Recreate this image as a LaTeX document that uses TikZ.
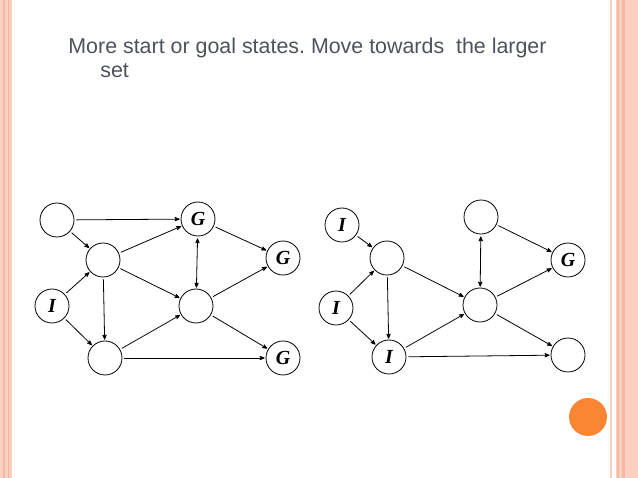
\documentclass[tikz,border=0pt]{standalone}
\usepackage{fontspec}
\setmainfont{Liberation Serif}
\setsansfont{Liberation Sans}
\usetikzlibrary{arrows,automata,positioning}
\frenchspacing

\definecolor{peach}{RGB}{252,208,192}
\definecolor{peachdark}{RGB}{246,184,162}
\definecolor{titlegray}{RGB}{78,82,92}
\definecolor{dotorange}{RGB}{250,134,52}

\begin{document}
\begin{tikzpicture}[x=1pt,y=-1pt,>=stealth',shorten >=1pt,shorten <=2pt,line width=0.8pt,
    every state/.style={minimum size=34pt,inner sep=0pt,line width=0.8pt,
      font=\rmfamily\bfseries\itshape\fontsize{20}{20}\selectfont},
    heading/.style={anchor=base west,text=titlegray,inner sep=0pt,
      font=\sffamily\fontsize{21.4}{24}\selectfont}]
    \useasboundingbox (0,0) rectangle (638,478);

    % page frame
    \fill[peach] (0,0) rectangle (12,478);
    \fill[peachdark] (3,0) rectangle (5,478);
    \fill[peachdark] (8,0) rectangle (9,478);
    \fill[peach] (610,0) rectangle (612,478);
    \fill[peach] (616,0) rectangle (638,478);
    \fill[peachdark] (617,0) rectangle (619,478);
    \fill[peachdark] (622,0) rectangle (625,478);
    \fill[dotorange] (588,417) circle (19);

    \node[heading] (title)  at (68,54)  {More start or goal states. Move towards\ \ the larger};
    \node[heading] (title2) at (100,78) {set};

    % left graph
    \node[state]           (a)  at (57,220)  {};
    \node[state]           (g1) at (198,219) {G};
    \node[state]           (b)  at (103,260) {};
    \node[state]           (g2) at (283,258) {G};
    \node[state]           (i)  at (52,306)  {I};
    \node[state]           (c)  at (196,306) {};
    \node[state]           (d)  at (105,358) {};
    \node[state]           (g3) at (283,358) {G};

    \path[->] (a) edge (g1)
                  edge (b)
              (b) edge (g1)
                  edge (c)
                  edge (d)
              (i) edge (b)
                  edge (d)
              (d) edge (c)
                  edge (g3)
              (g1) edge (g2)
                   edge [<->] (c)
              (c) edge (g2)
                  edge (g3);

    % right graph
    \node[state]           (ri1) at (342,225) {I};
    \node[state]           (rb)  at (387,258) {};
    \node[state]           (rt)  at (481,217) {};
    \node[state]           (rg)  at (568,260) {G};
    \node[state]           (ri2) at (336,308) {I};
    \node[state]           (rc)  at (480,305) {};
    \node[state]           (ri3) at (389,357) {I};
    \node[state]           (rd)  at (568,355) {};

    \path[->] (ri1) edge (rb)
              (ri2) edge (rb)
                    edge (ri3)
              (rb) edge (ri3)
                   edge (rc)
              (ri3) edge (rc)
                    edge (rd)
              (rt) edge [<->] (rc)
                   edge (rg)
              (rc) edge (rg)
                   edge (rd);

  \end{tikzpicture}
\end{document}
